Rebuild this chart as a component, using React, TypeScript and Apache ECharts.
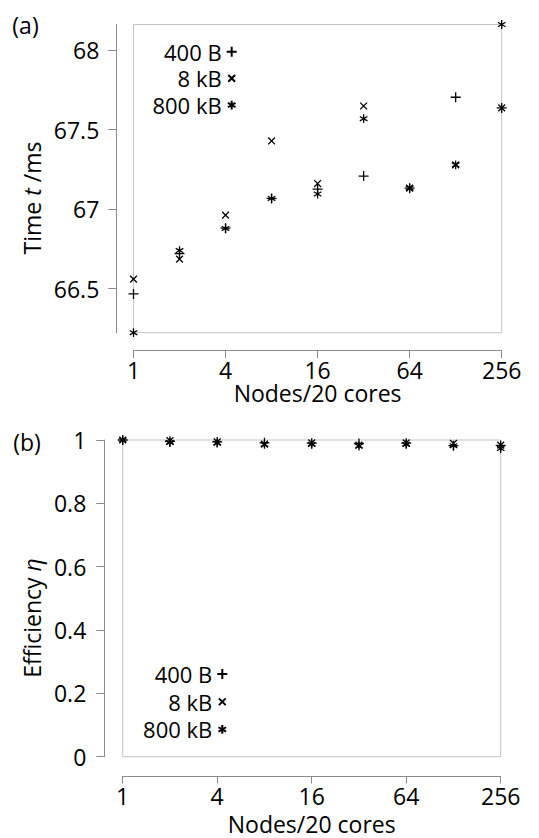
import React, { useEffect, useRef } from 'react';
import * as echarts from 'echarts';

// ---- data ----
const nodes = [1, 2, 4, 8, 16, 32, 64, 128, 256];
const xTickValues = [1, 4, 16, 64, 256];
const timeTickValues = [66.5, 67, 67.5, 68];
const effTickValues = [0, 0.2, 0.4, 0.6, 0.8, 1];
const seriesNames = ['400 B', '8 kB', '800 kB'];

// Time t / ms, panel (a)
const time400B = [66.466, 66.72, 66.88, 67.067, 67.126, 67.208, 67.132, 67.704, 67.637];
const time8kB = [66.559, 66.685, 66.962, 67.429, 67.161, 67.649, 67.132, 67.279, 67.637];
const time800kB = [66.222, 66.739, 66.878, 67.067, 67.095, 67.569, 67.132, 67.279, 68.162];

// Efficiency eta, panel (b)
const eff400B = [1, 0.996, 0.994, 0.991, 0.99, 0.989, 0.99, 0.982, 0.983];
const eff8kB = [1, 0.998, 0.994, 0.987, 0.991, 0.984, 0.991, 0.989, 0.984];
const eff800kB = [1, 0.992, 0.99, 0.986, 0.986, 0.981, 0.986, 0.982, 0.973];

// ---- styles ----
const FONT = '"Open Sans", "DejaVu Sans", sans-serif';
const FS = 23;
const LEG_FS = 22;
const AXIS = '#8a8a8a';
const FRAME = '#c4c4c4';

const PLUS = 'path://M0,5L10,5M5,0L5,10';
const CROSS = 'path://M0,0M10,10M1.6,1.6L8.4,8.4M8.4,1.6L1.6,8.4';
const STAR = 'path://M0,0M10,10M5,0.6L5,9.4M1.2,2.8L8.8,7.2M1.2,7.2L8.8,2.8';
const symbols = [PLUS, CROSS, STAR];

export default function App() {
  const ref = useRef<HTMLDivElement>(null);

  useEffect(() => {
    if (!ref.current) return;
    const chart = echarts.init(ref.current, undefined, { renderer: 'svg' });

    const timeData = [time400B, time8kB, time800kB];
    const effData = [eff400B, eff8kB, eff800kB];

    const mkSeries = (gi: number, vals: number[][]) =>
      seriesNames.map((name, k) => ({
        type: 'scatter',
        name,
        xAxisIndex: gi,
        yAxisIndex: gi,
        data: nodes.map((n, i) => [n, vals[k][i]]),
        symbol: symbols[k],
        symbolSize: 10,
        clip: false,
        silent: true,
        itemStyle: { color: '#000', borderColor: '#000', borderWidth: 1.3, opacity: 1 },
        emphasis: { disabled: true },
      }));

    const xAxisBase = (gi: number, offset: number) => ({
      gridIndex: gi,
      type: 'log',
      logBase: 2,
      min: 1,
      max: 256,
      offset,
      axisLine: { show: true, onZero: false, lineStyle: { color: AXIS, width: 1 } },
      axisTick: { show: true, inside: false, length: 7.5, customValues: xTickValues, lineStyle: { color: AXIS, width: 1 } },
      axisLabel: {
        show: true,
        customValues: xTickValues,
        margin: 8,
        color: '#000',
        fontSize: FS,
        fontFamily: FONT,
        formatter: (v: number) => String(Math.round(v)),
      },
      splitLine: { show: false },
      minorTick: { show: false },
      minorSplitLine: { show: false },
    });

    const yAxisBase = (gi: number, offset: number, ticks: number[], min: any, max: any, margin: number) => ({
      gridIndex: gi,
      type: 'value',
      min,
      max,
      offset,
      axisLine: { show: true, onZero: false, lineStyle: { color: AXIS, width: 1 } },
      axisTick: { show: true, inside: false, length: 8, customValues: ticks, lineStyle: { color: AXIS, width: 1 } },
      axisLabel: {
        show: true,
        customValues: ticks,
        margin,
        color: '#000',
        fontSize: FS,
        fontFamily: FONT,
        formatter: (v: number) => String(Math.round(v * 1000) / 1000),
      },
      splitLine: { show: false },
    });

    const legendBase = (left: number, top: number, lh: number) => ({
      show: true,
      orient: 'vertical',
      left,
      top,
      padding: 0,
      itemGap: 0,
      itemWidth: 10,
      itemHeight: 10,
      align: 'right',
      selectedMode: false,
      data: seriesNames,
      textStyle: {
        color: '#000',
        fontSize: LEG_FS,
        fontFamily: FONT,
        width: 80,
        align: 'right',
        lineHeight: lh,
      },
    });

    const txt = (text: string, x: number, y: number, rot = 0, rich?: any) => ({
      type: 'text',
      x,
      y,
      rotation: rot,
      silent: true,
      style: {
        text,
        fill: '#000',
        font: `${FS}px ${FONT}`,
        fontSize: FS,
        fontFamily: FONT,
        align: 'center',
        verticalAlign: 'middle',
        textAlign: 'center',
        textVerticalAlign: 'middle',
        rich,
      },
    });

    const richDef = {
      n: { fontSize: FS, fontFamily: FONT, fill: '#000', color: '#000' },
      i: { fontSize: FS, fontFamily: FONT, fontStyle: 'italic', fill: '#000', color: '#000' },
    };

    chart.setOption({
      animation: false,
      backgroundColor: '#fff',
      textStyle: { fontFamily: FONT },
      grid: [
        { left: 133.5, top: 24.5, width: 368.2, height: 308.2, show: true, borderColor: FRAME, borderWidth: 1, backgroundColor: 'transparent', containLabel: false, outerBoundsMode: 'none' },
        { left: 122.7, top: 440, width: 378, height: 316.7, show: true, borderColor: FRAME, borderWidth: 1, backgroundColor: 'transparent', containLabel: false, outerBoundsMode: 'none' },
      ],
      xAxis: [xAxisBase(0, 18), xAxisBase(1, 19.3)],
      yAxis: [
        yAxisBase(0, 17.2, timeTickValues, 'dataMin', 'dataMax', 17),
        yAxisBase(1, 18.4, effTickValues, 0, 1, 18),
      ],
      legend: [legendBase(141.7, 38.3, 26.7), legendBase(132.3, 660.2, 27.7)],
      series: [...mkSeries(0, timeData), ...mkSeries(1, effData)],
      graphic: [
        txt('(a)', 25.5, 25),
        txt('(b)', 27, 441.5),
        txt('{n|Nodes/20 cores}', 317.6, 392.5, 0, richDef),
        txt('{n|Nodes/20 cores}', 311.7, 824, 0, richDef),
        txt('{n|Time }{i|t}{n| /ms}', 32, 198, Math.PI / 2, richDef),
        txt('{n|Efficiency }{i|η}', 32, 618, Math.PI / 2, richDef),
      ],
    });

    return () => chart.dispose();
  }, []);

  return (
    <div
      ref={ref}
      style={{ position: 'absolute', left: 0, top: 0, width: 539, height: 838, background: '#fff' }}
    />
  );
}
